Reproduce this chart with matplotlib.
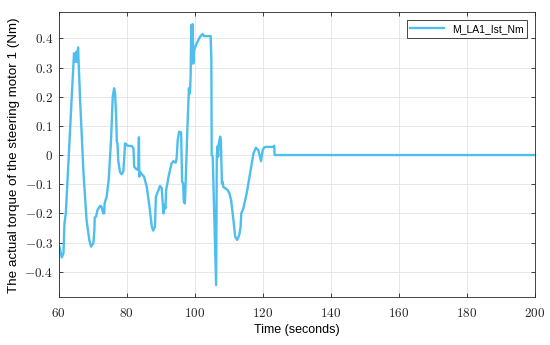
import numpy as np
import matplotlib
matplotlib.use("Agg")
import matplotlib.pyplot as plt
from matplotlib.ticker import FuncFormatter

# time (s) and actual torque of steering motor 1 (Nm)
t = [60.0, 60.9, 61.4, 61.7, 62.1, 64.5, 64.9, 65.2, 65.4, 65.7,
     66.3, 67.3, 68.2, 69.0, 69.5, 70.2, 70.5, 70.6, 71.0, 71.4,
     72.2, 72.6, 73.1, 73.4, 73.5, 74.1, 74.7, 75.4, 75.9, 76.3,
     76.6, 76.9, 77.1, 77.3, 77.5, 78.0, 78.5, 79.0, 79.3, 79.5,
     79.8, 80.2, 81.5, 82.0, 82.2, 82.9, 83.4, 83.6, 83.7, 83.9,
     84.4, 85.1, 85.9, 86.7, 87.4, 87.8, 88.3, 88.6, 89.0, 89.8,
     90.3, 90.6, 90.8, 91.1, 91.4, 91.6, 92.1, 92.3, 93.2, 93.7,
     94.4, 94.7, 95.0, 95.4, 96.0, 96.3, 96.6, 96.8, 97.1, 97.3,
     97.8, 98.3, 98.6, 98.8, 99.0, 99.2, 99.4, 99.6, 99.8, 100.6,
     101.6, 102.3, 102.7, 104.0, 104.7, 104.9, 105.0, 105.3, 106.3, 106.5,
     106.7, 106.9, 107.1, 107.5, 107.7, 108.0, 108.2, 108.4, 109.0, 109.7,
     110.2, 110.7, 111.4, 111.9, 112.5, 113.1, 113.5, 113.7, 114.3, 115.3,
     116.3, 117.3, 118.0, 118.7, 119.2, 119.5, 120.0, 120.4, 121.0, 123.0,
     123.4, 123.5, 200.0]
torque = [-0.303, -0.351, -0.337, -0.234, -0.200, 0.349, 0.320, 0.354, 0.320, 0.369,
          0.189, -0.063, -0.223, -0.291, -0.314, -0.303, -0.257, -0.214, -0.211, -0.189,
          -0.174, -0.177, -0.200, -0.200, -0.166, -0.143, -0.086, 0.051, 0.200, 0.229,
          0.211, 0.131, 0.046, 0.040, -0.017, -0.057, -0.066, -0.057, -0.006, 0.040,
          0.038, 0.032, 0.031, 0.023, -0.040, -0.049, -0.051, 0.061, -0.074, -0.057,
          -0.065, -0.074, -0.109, -0.177, -0.246, -0.259, -0.246, -0.143, -0.131, -0.106,
          -0.114, -0.166, -0.200, -0.171, -0.183, -0.120, -0.089, -0.074, -0.029, -0.021,
          -0.026, -0.011, 0.051, 0.080, 0.078, -0.091, -0.097, -0.160, -0.166, -0.109,
          0.074, 0.229, 0.211, 0.269, 0.446, 0.314, 0.449, 0.314, 0.360, 0.383,
          0.406, 0.415, 0.408, 0.408, 0.408, 0.326, 0.000, -0.006, -0.446, -0.006,
          0.029, -0.006, 0.040, 0.063, 0.051, -0.097, -0.091, -0.109, -0.114, -0.120,
          -0.131, -0.154, -0.223, -0.280, -0.291, -0.274, -0.246, -0.200, -0.183, -0.131,
          -0.063, 0.006, 0.025, 0.017, -0.006, -0.021, 0.017, 0.026, 0.028, 0.028,
          0.032, 0.000, 0.000]

xticks = [60, 80, 100, 120, 140, 160, 180, 200]
yticks = [-0.4, -0.3, -0.2, -0.1, 0, 0.1, 0.2, 0.3, 0.4]

plt.rcParams['mathtext.fontset'] = 'cm'
plt.rcParams['font.family'] = ['Liberation Sans', 'DejaVu Sans']

fig = plt.figure(figsize=(5.5, 3.45), dpi=100)
ax = fig.add_axes([0.1067, 0.138, 0.8655, 0.826])

ax.plot(t, torque, color='#4DBEEE', lw=1.7, label='M_LA1_Ist_Nm')

ax.set_xlim(60, 200)
ax.set_ylim(-0.488, 0.489)
ax.set_xticks(xticks)
ax.set_yticks(yticks)

fmt = FuncFormatter(lambda v, p: r'$%g$' % round(v, 2))
ax.xaxis.set_major_formatter(fmt)
ax.yaxis.set_major_formatter(fmt)

ax.grid(True, color='#e3e3e3', lw=0.6)
ax.set_axisbelow(True)
for s in ax.spines.values():
    s.set_color('#262626')
    s.set_linewidth(0.6)
ax.tick_params(direction='in', length=3, width=0.6, color='#262626',
               top=True, right=True, labelsize=9.5, labelcolor='#262626')
ax.tick_params(axis='x', pad=7)
ax.tick_params(axis='y', pad=4)

ax.set_xlabel('Time (seconds)', fontsize=9, labelpad=3)
ax.set_ylabel('The actual torque of the steering motor 1 (Nm)', fontsize=9.6, labelpad=3)

leg = ax.legend(loc='upper right', fontsize=7.5, fancybox=False, framealpha=1,
                edgecolor='#262626', handlelength=3.2, borderpad=0.35,
                bbox_to_anchor=(0.995, 0.99))
leg.get_frame().set_linewidth(0.6)

fig.savefig('out.png', dpi=100)
